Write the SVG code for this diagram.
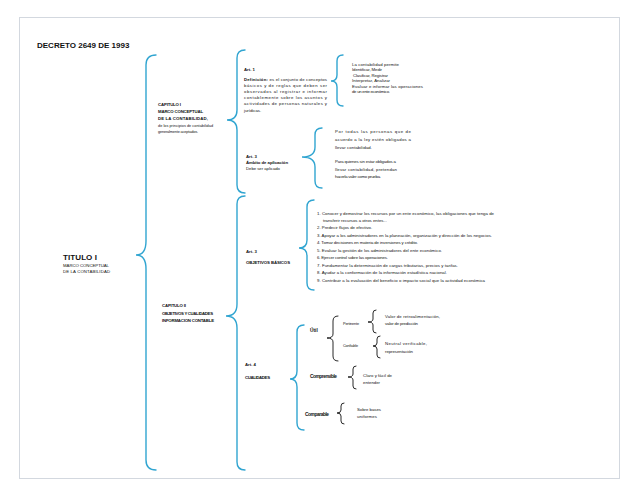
<svg xmlns="http://www.w3.org/2000/svg" width="638" height="494" viewBox="0 0 638 494">
<style>
text{font-family:"Liberation Sans",Arial,sans-serif;fill:#111}
.b{font-weight:bold}
.t8{font-size:8px}
.s5{font-size:4.8px}
.s4{font-size:4.3px}
.s3{font-size:3.8px}
.br{fill:none;stroke:#31a5d1;stroke-width:1.4;stroke-linecap:round}
.bk{fill:none;stroke:#111;stroke-width:0.9;stroke-linecap:round}
</style>
<rect x="0" y="0" width="638" height="494" fill="#fff"/>
<rect x="19.5" y="17.5" width="600" height="461" fill="none" stroke="#d3d8df" stroke-width="1"/>
<text class="b t8" x="37" y="48">DECRETO 2649 DE 1993</text>

<g id="connectors">
<path class="br" d="M156,55 Q146,55 146,65 L146,241 Q146,255 136,255 Q146,255 146,269 L146,460 Q146,470 156,470"/>
<path class="br" d="M245,50 Q237,50 237,58 L237,110 Q237,120 227,120 Q237,120 237,130 L237,185 Q237,193 245,193"/>
<path class="br" d="M245,196 Q237,196 237,204 L237,304 Q237,316 226,316 Q237,316 237,328 L237,462 Q237,470 245,470"/>
<path class="br" d="M343,55 Q337,55 337,61 L337,75 Q337,81 331,81 Q337,81 337,87 L337,100 Q337,106 343,106"/>
<path class="br" d="M322,128 Q315,128 315,135 L315,147 Q315,157 302,157 Q315,157 315,167 L315,181 Q315,188 322,188"/>
<path class="br" d="M314,200 Q307,200 307,207 L307,240 Q307,248 299,248 Q307,248 307,256 L307,283 Q307,290 314,290"/>
<path class="br" d="M304,325 Q297,325 297,332 L297,371 Q297,379 290,379 Q297,379 297,387 L297,423 Q297,430 304,430"/>
<path class="bk" d="M338,316 Q333,316 333,321 L333,334 Q333,338 327,338 Q333,338 333,342 L333,356 Q333,361 338,361"/>
<path class="bk" d="M376,310 Q373,310 373,313 L373,319 Q373,322 368,322 Q373,322 373,325 L373,330 Q373,333 376,333"/>
<path class="bk" d="M380,336 Q377,336 377,339 L377,343 Q377,346 373,346 Q377,346 377,349 L377,355 Q377,358 380,358"/>
<path class="bk" d="M356,366 Q353,366 353,369 L353,374 Q353,377 348,377 Q353,377 353,380 L353,386 Q353,389 356,389"/>
<path class="bk" d="M344,403 Q341,403 341,406 L341,410 Q341,413 337,413 Q341,413 341,416 L341,421 Q341,424 344,424"/>
</g>

<g id="titulo">
<text class="b t8" x="63" y="260" textLength="34">TITULO I</text>
<text class="s4" x="63" y="266.5" textLength="46">MARCO CONCEPTUAL</text>
<text class="s4" x="63" y="273" textLength="47">DE LA CONTABILIDAD</text>
</g>

<g id="capitulo1">
<text class="b s4" x="158" y="106" textLength="23">CAPITULO I</text>
<text class="b s4" x="158" y="113" textLength="45">MARCO CONCEPTUAL</text>
<text class="b s4" x="158" y="120" textLength="50">DE LA CONTABILIDAD,</text>
<text class="s3" x="158" y="126.5" textLength="55">de los principios de contabilidad</text>
<text class="s3" x="158" y="132.5" textLength="40">generalmente aceptados.</text>
</g>

<g id="art1">
<text class="b s4" x="244" y="70.5">Art. 1</text>
<text class="s4" x="244" y="80.5" textLength="83"><tspan class="b">Definición:</tspan> es el conjunto de conceptos</text>
<text class="s4" x="244" y="86.7" textLength="83">básicos y de reglas que deben ser</text>
<text class="s4" x="244" y="92.9" textLength="83">observados al registrar e informar</text>
<text class="s4" x="244" y="99.1" textLength="83">contablemente sobre los asuntos y</text>
<text class="s4" x="244" y="105.3" textLength="83">actividades de personas naturales y</text>
<text class="s4" x="244" y="111.5">jurídicas.</text>
</g>

<g id="permite">
<text class="s4" x="352" y="65.5" textLength="47">La contabilidad permite</text>
<text class="s4" x="352" y="71" textLength="30">Identificar, Medir</text>
<text class="s4" x="353" y="76.5" textLength="35">Clasificar, Registrar</text>
<text class="s4" x="352" y="82" textLength="38">Interpretar, Analizar</text>
<text class="s4" x="352" y="87.5" textLength="71">Evaluar e informar las operaciones</text>
<text class="s4" x="352" y="93" textLength="38">de un ente económico.</text>
</g>

<g id="art3ambito">
<text class="b s4" x="246" y="157.5">Art. 3</text>
<text class="b s4" x="246" y="163.5" textLength="42">Ámbito de aplicación</text>
<text class="s4" x="246" y="169.5" textLength="34">Debe ser aplicado</text>
</g>

<g id="personas">
<text class="s4" x="335" y="132.5" textLength="76">Por todas las personas que de</text>
<text class="s4" x="335" y="140.5" textLength="76">acuerdo a la ley estén obligados a</text>
<text class="s4" x="335" y="148.5" textLength="37">llevar contabilidad.</text>
<text class="s4" x="335" y="162.5" textLength="61">Para quienes sin estar obligados a</text>
<text class="s4" x="335" y="170.5" textLength="62">llevar contabilidad, pretendan</text>
<text class="s4" x="335" y="178" textLength="46">hacerla valer como prueba.</text>
</g>

<g id="capitulo2">
<text class="b s4" x="162" y="307" textLength="24">CAPITULO II</text>
<text class="b s4" x="162" y="314.5" textLength="51">OBJETIVOS Y CUALIDADES</text>
<text class="b s4" x="162" y="322" textLength="52">INFORMACION CONTABLE</text>
</g>

<g id="art3objetivos">
<text class="b s4" x="246" y="252.5">Art. 3</text>
<text class="b s4" x="246" y="263.5" textLength="44">OBJETIVOS BÁSICOS</text>
</g>

<g id="objetivos">
<text class="s4" x="317" y="214.5" textLength="177">1. Conocer y demostrar los recursos por un ente económico, las obligaciones que tenga de</text>
<text class="s4" x="323" y="221.5" textLength="64">transferir recursos a otros entes...</text>
<text class="s4" x="317" y="229">2. Predecir flujos de efectivo.</text>
<text class="s4" x="317" y="236.5" textLength="175">3. Apoyar a los administradores en la planeación, organización y dirección de los negocios.</text>
<text class="s4" x="317" y="244" textLength="101">4. Tomar decisiones en materia de inversiones y crédito.</text>
<text class="s4" x="317" y="251.5" textLength="125">5. Evaluar la gestión de los administradores del ente económico.</text>
<text class="s4" x="317" y="259" textLength="71">6. Ejercer control sobre las operaciones.</text>
<text class="s4" x="317" y="266.5" textLength="141">7. Fundamentar la determinación de cargas tributarias, precios y tarifas.</text>
<text class="s4" x="317" y="274" textLength="130">8. Ayudar a la conformación de la información estadística nacional.</text>
<text class="s4" x="317" y="281.5" textLength="168">9. Contribuir a la evaluación del beneficio o impacto social que la actividad económica</text>
</g>

<g id="art4">
<text class="b s4" x="245" y="365.5">Art. 4</text>
<text class="b s4" x="245" y="378.5" textLength="25">CUALIDADES</text>
</g>

<g id="util">
<text class="b s5" x="310" y="331.5">Útil</text>
</g>
<g id="pertinente">
<text class="s3" x="343" y="324.5" textLength="16">Pertinente</text>
<text class="s4" x="385" y="317.5" textLength="55">Valor de retroalimentación,</text>
<text class="s4" x="385" y="325" textLength="33">valor de predicción</text>
</g>
<g id="confiable">
<text class="s3" x="343" y="346.5" textLength="15">Confiable</text>
<text class="s4" x="385" y="344.5" textLength="42">Neutral verificable,</text>
<text class="s4" x="385" y="352.5" textLength="28">representación</text>
</g>
<g id="comprensible">
<text class="b s5" x="310" y="377.5" textLength="27">Comprensible</text>
<text class="s4" x="363" y="376.5" textLength="29">Claro y fácil de</text>
<text class="s4" x="363" y="383.5" textLength="17">entender</text>
</g>
<g id="comparable">
<text class="b s5" x="305" y="415.5" textLength="24">Comparable</text>
<text class="s4" x="357" y="410.5" textLength="24">Sobre bases</text>
<text class="s4" x="357" y="417.5" textLength="20">uniformes</text>
</g>
</svg>
